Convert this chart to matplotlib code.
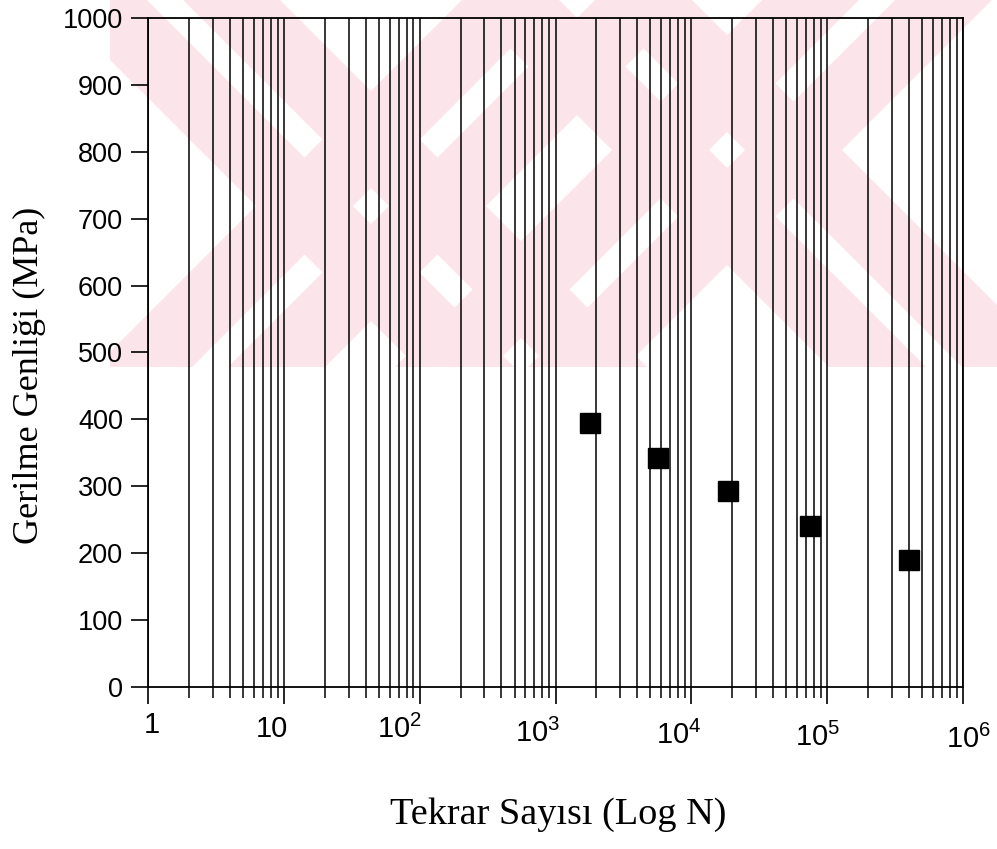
import numpy as np
import matplotlib.pyplot as plt
from matplotlib.patches import Polygon, Rectangle
from matplotlib.ticker import LogLocator, NullFormatter
from matplotlib.transforms import ScaledTranslation, blended_transform_factory

# fatigue test results
cycles = [1800, 5700, 18500, 75000, 400000]
stress = [394, 343, 293, 240, 190]

y_ticks = [0, 100, 200, 300, 400, 500, 600, 700, 800, 900, 1000]
x_ticks = [1, 10, 1e2, 1e3, 1e4, 1e5, 1e6]
x_ticklabels = ['1', '10', '$10^2$', '$10^3$', '$10^4$', '$10^5$', '$10^6$']
# small nudges (pixels) for the decade labels
x_label_dx = [4, -12, -20, -18, -13, -10, 6]
x_label_dy = [0, 4, 4, 8, 10, 12, 14]

W, H = 997, 849
fig = plt.figure(figsize=(W / 100, H / 100), dpi=100)
tick_font = 'Liberation Sans'
plt.rcParams['mathtext.fontset'] = 'custom'
plt.rcParams['mathtext.rm'] = tick_font

# pale pink X stamp behind the plot, in pixel units
bg = fig.add_axes([0, 0, 1, 1], zorder=0)
bg.set_xlim(0, W)
bg.set_ylim(H, 0)
bg.axis('off')
pink = '#fce5ea'
clip = Rectangle((110, 0), W - 110, 367, transform=bg.transData, fc='none', ec='none')
bg.add_patch(clip)
x_centres = [(371, 206), (727, 150)]
offsets = [(-115, -18), (18, 115)]
y0, y1 = -80, 450
for cx, cy in x_centres:
    c1, c2 = cx - cy, cx + cy
    for a, b in offsets:
        # "\" stripe: x - y in [c1+a, c1+b]; "/" stripe: x + y in [c2+a, c2+b]
        for pts in ([(c1 + a + y0, y0), (c1 + b + y0, y0), (c1 + b + y1, y1), (c1 + a + y1, y1)],
                    [(c2 + a - y0, y0), (c2 + b - y0, y0), (c2 + b - y1, y1), (c2 + a - y1, y1)]):
            p = Polygon(pts, closed=True, fc=pink, ec='none')
            bg.add_patch(p)
            p.set_clip_path(clip)

ax = fig.add_axes([148 / W, 1 - 687 / H, 815 / W, 669 / H], zorder=1)
ax.set_facecolor('none')
ax.set_xscale('log')
ax.set_xlim(1, 1e6)
ax.set_ylim(0, 1000)

ax.plot(cycles, stress, 's', color='black', ms=14.5, zorder=3)

ax.xaxis.set_minor_locator(LogLocator(base=10, subs=np.arange(2, 10)))
ax.xaxis.set_minor_formatter(NullFormatter())
ax.grid(True, axis='x', which='both', color='black', lw=1.1)

ax.set_xticks(x_ticks)
ax.set_xticklabels([])
ax.set_yticks(y_ticks)
for lab in ax.get_yticklabels():
    lab.set_fontfamily(tick_font)
    lab.set_fontsize(19.5)

# decade labels under the axis
trans = blended_transform_factory(ax.transData, ax.transAxes)
for x, txt, dx, dy in zip(x_ticks, x_ticklabels, x_label_dx, x_label_dy):
    off = ScaledTranslation(dx / 100, -dy / 100, fig.dpi_scale_trans)
    ax.text(x, -0.036, txt, transform=trans + off, ha='center', va='top',
            fontfamily=tick_font, fontsize=21)

ax.tick_params(axis='y', which='major', direction='out', length=12, width=1.2, pad=6)
ax.tick_params(axis='x', which='major', direction='out', length=12, width=1.2)
ax.tick_params(axis='x', which='minor', direction='out', length=8, width=1.1)

for sp in ax.spines.values():
    sp.set_linewidth(1.3)
    sp.set_color('black')

ax.set_xlabel('Tekrar Sayısı (Log N)', fontfamily='Liberation Serif', fontsize=27.5, va='center')
ax.xaxis.set_label_coords(0.503, -0.191)
ax.set_ylabel('Gerilme Genliği (MPa)', fontfamily='Liberation Serif', fontsize=26, va='center')
ax.yaxis.set_label_coords(-0.145, 0.466)

fig.savefig('out.png', dpi=100)
